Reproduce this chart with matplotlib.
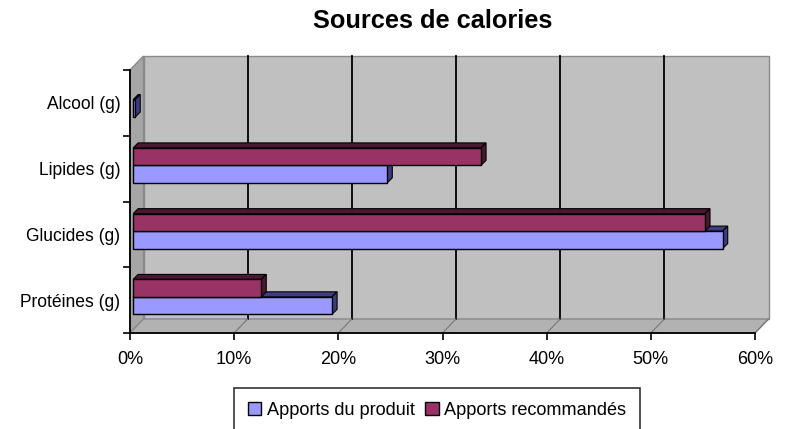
import numpy as np
import matplotlib
matplotlib.use("Agg")
import matplotlib.pyplot as plt
from matplotlib.patches import Polygon, Patch
from matplotlib import font_manager

# Données (en %)
categories = ["Protéines (g)", "Glucides (g)", "Lipides (g)", "Alcool (g)"]
apports_produit = [19.1, 56.6, 24.4, 0.2]
apports_recommandes = [12.3, 54.9, 33.4, 0.0]
x_ticks = [0, 10, 20, 30, 40, 50, 60]
x_labels = ["0%", "10%", "20%", "30%", "40%", "50%", "60%"]
series_labels = ["Apports du produit", "Apports recommandés"]
titre = "Sources de calories"

# Police étroite si disponible
noms = {f.name for f in font_manager.fontManager.ttflist}
if "Liberation Sans Narrow" in noms:
    famille = ["Liberation Sans Narrow", "DejaVu Sans"]
    k = 1.0
else:
    famille = ["Liberation Sans", "DejaVu Sans"]
    k = 0.87
plt.rcParams['font.family'] = famille

W, H = 785, 429
fig = plt.figure(figsize=(W / 100, H / 100), dpi=100)
ax = fig.add_axes([130 / W, 1 - 333 / H, 625 / W, 263 / H])
ax.set_xlim(0, 60)
ax.set_ylim(0, 4)
ax.patch.set_alpha(0)

# décalage de profondeur (parois)
dx = 13.5 / (625 / 60)
dy = 14 / (263 / 4)

mur_fond = Polygon([(dx, dy), (60 + dx, dy), (60 + dx, 4 + dy), (dx, 4 + dy)],
                   closed=True, fc="#C0C0C0", ec="#8a8a8a", lw=1, clip_on=False, zorder=0)
mur_gauche = Polygon([(0, 0), (dx, dy), (dx, 4 + dy), (0, 4)],
                     closed=True, fc="#A6A6A6", ec="#8a8a8a", lw=1, clip_on=False, zorder=0.5)
sol = Polygon([(0, 0), (60, 0), (60 + dx, dy), (dx, dy)],
              closed=True, fc="#B2B2B2", ec="#8a8a8a", lw=1, clip_on=False, zorder=0.5)
for p in (mur_fond, mur_gauche, sol):
    ax.add_patch(p)

for xv in x_ticks[1:-1]:
    ax.plot([xv + dx, xv + dx], [dy, 4 + dy], color="black", lw=1.3, clip_on=False, zorder=1)
for xv in x_ticks[1:]:
    ax.plot([xv, xv + dx], [0, dy], color="#777777", lw=0.8, clip_on=False, zorder=1)

# Barres
y = np.arange(len(categories))
h = 0.265
x0 = 0.3
bdx = 5 / (625 / 60)
bdy = 5 / (263 / 4)
series = [
    (apports_produit, 0.285, "#9999FF", "#3d3d85", 3),
    (apports_recommandes, 0.55, "#993366", "#4a1830", 4),
]
for vals, off, col, sombre, z in series:
    bars = ax.barh(y + off, vals, height=h, left=x0, align="edge",
                   color=col, edgecolor="black", lw=1, zorder=z + 0.1)
    for b, v in zip(bars, vals):
        if v <= 0:
            b.set_visible(False)
            continue
        bx, by = b.get_x(), b.get_y()
        bw, bh = b.get_width(), b.get_height()
        dessus = Polygon([(bx, by + bh), (bx + bw, by + bh), (bx + bw + bdx, by + bh + bdy),
                          (bx + bdx, by + bh + bdy)], closed=True, fc=sombre, ec="black",
                         lw=0.8, zorder=z)
        cote = Polygon([(bx + bw, by), (bx + bw + bdx, by + bdy), (bx + bw + bdx, by + bh + bdy),
                        (bx + bw, by + bh)], closed=True, fc=sombre, ec="black", lw=0.8, zorder=z)
        ax.add_patch(dessus)
        ax.add_patch(cote)

# Axes
for s in ("top", "right"):
    ax.spines[s].set_visible(False)
for s in ("left", "bottom"):
    ax.spines[s].set_color("black")
    ax.spines[s].set_linewidth(1.3)
    ax.spines[s].set_zorder(6)

ax.set_xticks(x_ticks)
ax.set_xticklabels(x_labels)
ax.tick_params(axis="x", direction="out", length=5, width=1.2, pad=8, labelsize=15 * k)
ax.set_yticks(np.arange(0, 5))
ax.set_yticklabels([])
ax.set_yticks(y + 0.5, minor=True)
ax.set_yticklabels(categories, minor=True)
ax.tick_params(axis="y", which="major", direction="out", length=5, width=1.2)
ax.tick_params(axis="y", which="minor", length=0, pad=7, labelsize=14.5 * k)

fig.text(433 / W, 1 - 21 / H, titre, ha="center", va="center",
         fontsize=21 * k, fontweight="bold")

poignees = [Patch(fc=series[0][2], ec="black", lw=1), Patch(fc=series[1][2], ec="black", lw=1)]
leg = fig.legend(poignees, series_labels, ncol=2, loc="upper center",
                 bbox_to_anchor=(437 / W, 1 - 388 / H), borderaxespad=0,
                 frameon=True, fancybox=False,
                 edgecolor="black", handlelength=0.75, handleheight=0.75,
                 handletextpad=0.3, columnspacing=0.6, borderpad=0.75,
                 prop={"size": 15 * k})
leg.get_frame().set_linewidth(1.2)

fig.savefig("out.png", dpi=100)
